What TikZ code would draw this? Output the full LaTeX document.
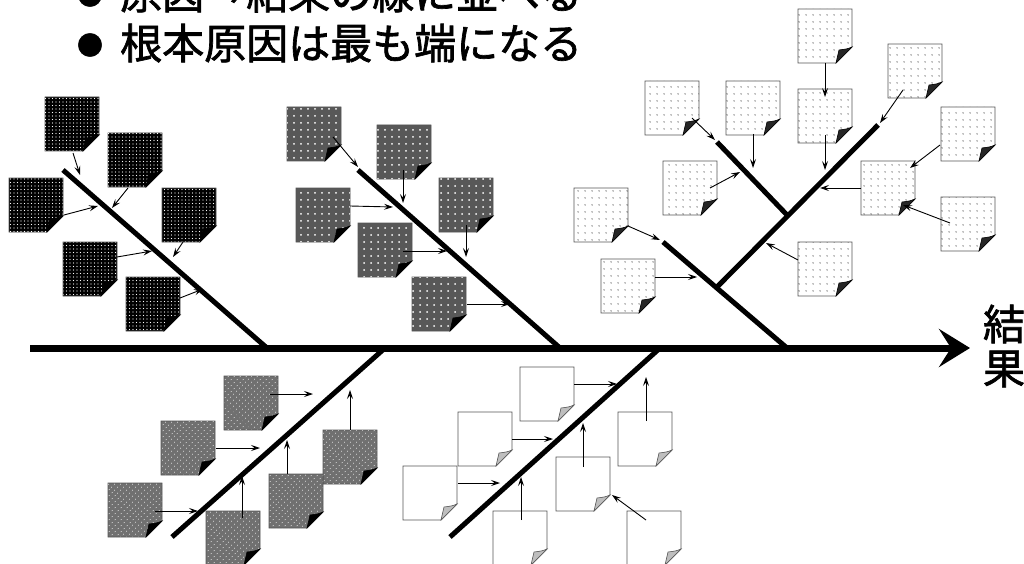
\documentclass[tikz,border=0pt]{standalone}
\usepackage{fontspec}
\newfontfamily\jp[FakeBold=1.6]{Noto Sans CJK JP}
\usetikzlibrary{arrows.meta,calc,patterns.meta}
\definecolor{edgegray}{RGB}{85,85,85}
\definecolor{notegraydark}{RGB}{88,88,88}
\definecolor{notegray}{RGB}{112,112,112}
\definecolor{foldlight}{RGB}{190,190,190}
\newcommand\stickynote[4]{%
  \node[notebox] (#1) at (#2,#3) {};
  \path[#4body] (#1.north west) -- (#1.north east) -- ($(#1.south east)+(0,-16)$)
     -- ($(#1.south east)+(-16,0)$) -- (#1.south west) -- cycle;
  \path[#4fold] ($(#1.south east)+(0,-16)$) .. controls ($(#1.south east)+(-5,-14)$) ..
     ($(#1.south east)+(-13,-13)$) -- ($(#1.south east)+(-16,0)$) -- cycle;
}
\newcommand\cause[4]{\draw[arr] ($(#1)+(#2,#3)$) -- (#4);}
\begin{document}
\begin{tikzpicture}[x=1pt,y=-1pt,
  jptext/.style={font=\jp\fontsize{42}{44}\selectfont, inner sep=0pt},
  bul/.style={font=\jp\fontsize{26}{26}\selectfont, inner sep=0pt},
  spine/.style={line width=7pt, -{Stealth[length=31pt,width=38pt,inset=12pt]}},
  branch/.style={line width=5pt},
  arr/.style={line width=0.9pt, -{Stealth[length=9pt,width=6pt,inset=3.5pt]}},
  notebox/.style={minimum width=54pt, minimum height=54pt, inner sep=0pt, outer sep=0pt},
  blackbody/.style={fill=black, draw=edgegray, line width=0.8pt,
     postaction={pattern={Dots[distance=3.5pt,radius=0.6pt]}, pattern color=white}},
  blackfold/.style={fill=black, draw=black, line width=0.6pt},
  darkbody/.style={fill=notegraydark, draw=edgegray, line width=0.8pt,
     postaction={pattern={Dots[distance=7pt,radius=1pt]}, pattern color=white}},
  darkfold/.style={fill=black, draw=black, line width=0.6pt},
  graybody/.style={fill=notegray, draw=edgegray, line width=0.8pt,
     postaction={pattern={Dots[distance=4pt,radius=0.6pt,angle=45]}, pattern color=white!80!gray}},
  grayfold/.style={fill=black, draw=black, line width=0.6pt},
  lightbody/.style={fill=white, draw=edgegray, line width=0.8pt,
     postaction={pattern={Dots[distance=6.5pt,radius=0.6pt]}, pattern color=black}},
  lightfold/.style={fill=black!85, draw=black, line width=0.6pt},
  whitebody/.style={fill=white, draw=edgegray, line width=0.8pt},
  whitefold/.style={fill=foldlight, draw=edgegray, line width=0.6pt}
]
\useasboundingbox (0,0) rectangle (1024,564);

% titles
\node[bul] (b1) at (90,-5) {●};
\node[jptext, anchor=base west] (t1) at (120,9) {原因→結果の線に並べる};
\node[bul] (b2) at (90,45) {●};
\node[jptext, anchor=base west] (t2) at (120,59) {根本原因は最も端になる};

% spine
\coordinate (s0) at (30,348);
\coordinate (s1) at (970,348);
\draw[spine] (s0) -- (s1);
\node[jptext, align=center] (res) at (1004,346) {結\\果};

% branches
\coordinate (a1) at (63,170);   \coordinate (a2) at (267,348);
\coordinate (c1) at (358,170);  \coordinate (c2) at (560,348);
\coordinate (m1) at (663,242);  \coordinate (m2) at (787,348);
\coordinate (u1) at (717,287);  \coordinate (u2) at (878,125);
\coordinate (v1) at (717,142);  \coordinate (v2) at (788,216);
\coordinate (p1) at (385,348);  \coordinate (p2) at (172,537);
\coordinate (q1) at (660,348);  \coordinate (q2) at (450,537);
\draw[branch] (a1) -- (a2);
\draw[branch] (c1) -- (c2);
\draw[branch] (m1) -- (m2);
\draw[branch] (u1) -- (u2);
\draw[branch] (v1) -- (v2);
\draw[branch] (p1) -- (p2);
\draw[branch] (q1) -- (q2);

% black notes
\stickynote{k1}{72}{124}{black}
\stickynote{k2}{135}{160}{black}
\stickynote{k3}{36}{205}{black}
\stickynote{k4}{189}{215}{black}
\stickynote{k5}{90}{269}{black}
\stickynote{k6}{153}{304}{black}
% dark notes
\stickynote{d1}{314}{134}{dark}
\stickynote{d2}{404}{152}{dark}
\stickynote{d3}{323}{215}{dark}
\stickynote{d4}{466}{205}{dark}
\stickynote{d5}{385}{250}{dark}
\stickynote{d6}{439}{304}{dark}
% light notes
\stickynote{l1}{825}{36}{light}
\stickynote{l2}{915}{71}{light}
\stickynote{l3}{672}{108}{light}
\stickynote{l4}{753}{108}{light}
\stickynote{l5}{825}{116}{light}
\stickynote{l6}{968}{134}{light}
\stickynote{l7}{690}{188}{light}
\stickynote{l8}{888}{188}{light}
\stickynote{l9}{601}{215}{light}
\stickynote{l10}{968}{224}{light}
\stickynote{l11}{628}{286}{light}
\stickynote{l12}{825}{269}{light}
% gray notes
\stickynote{g1}{251}{403}{gray}
\stickynote{g2}{188}{448}{gray}
\stickynote{g3}{350}{457}{gray}
\stickynote{g4}{296}{501}{gray}
\stickynote{g5}{135}{510}{gray}
\stickynote{g6}{233}{538}{gray}
% white notes
\stickynote{w1}{547}{394}{white}
\stickynote{w2}{485}{439}{white}
\stickynote{w3}{645}{439}{white}
\stickynote{w4}{430}{493}{white}
\stickynote{w5}{583}{484}{white}
\stickynote{w6}{520}{538}{white}
\stickynote{w7}{654}{538}{white}

% arrow targets
\coordinate (ek1) at (80,175);  \coordinate (ek2) at (112,208);
\coordinate (ek3) at (98,206);  \coordinate (ek4) at (173,257);
\coordinate (ek5) at (152,251); \coordinate (ek6) at (203,289);
\coordinate (ed1) at (358,167); \coordinate (ed2) at (403,203);
\coordinate (ed3) at (393,207); \coordinate (ed4) at (466,257);
\coordinate (ed5) at (447,251); \coordinate (ed6) at (510,304);
\coordinate (el1) at ($(l5)+(0,-19)$);
\coordinate (el2) at (825,170); \coordinate (el3) at (880,123);
\coordinate (el4) at (715,140); \coordinate (el5) at (753,168);
\coordinate (el6) at (740,172); \coordinate (el7) at ($(l8)+(22,-20)$);
\coordinate (el8) at (820,188); \coordinate (el9) at ($(l8)+(15,17)$);
\coordinate (el10) at (766,243); \coordinate (el11) at (660,240);
\coordinate (el12) at (697,277);
\coordinate (eg1) at (313,394); \coordinate (eg2) at (260,448);
\coordinate (eg3) at (350,390); \coordinate (eg4) at (287,440);
\coordinate (eg5) at (198,511); \coordinate (eg6) at (242,476);
\coordinate (ew1) at (617,384); \coordinate (ew2) at (553,439);
\coordinate (ew3) at (646,377); \coordinate (ew4) at (500,483);
\coordinate (ew5) at (583,423); \coordinate (ew6) at (521,477);
\coordinate (ew7) at ($(w5)+(29,11)$);

% arrows
\cause{k1}{1}{29}{ek1}
\cause{k2}{-7}{28}{ek2}
\cause{k3}{28}{10}{ek3}
\cause{k4}{-6}{27}{ek4}
\cause{k5}{27}{-12}{ek5}
\cause{k6}{27}{-6}{ek6}
\cause{d1}{19}{3}{ed1}
\cause{d2}{-1}{18}{ed2}
\cause{d3}{27}{-9}{ed3}
\cause{d4}{0}{20}{ed4}
\cause{d5}{18}{1}{ed5}
\cause{d6}{28}{0}{ed6}
\cause{l1}{0}{27}{el1}
\cause{l5}{0}{19}{el2}
\cause{l2}{-12}{19}{el3}
\cause{l3}{20}{10}{el4}
\cause{l4}{0}{26}{el5}
\cause{l7}{20}{0}{el6}
\cause{l6}{-28}{11}{el7}
\cause{l8}{-27}{0}{el8}
\cause{l10}{-18}{-1}{el9}
\cause{l12}{-27}{-9}{el10}
\cause{l9}{27}{11}{el11}
\cause{l11}{27}{-9}{el12}
\cause{g1}{19}{-9}{eg1}
\cause{g2}{28}{0}{eg2}
\cause{g3}{0}{-27}{eg3}
\cause{g4}{-9}{-27}{eg4}
\cause{g5}{20}{1}{eg5}
\cause{g6}{9}{-20}{eg6}
\cause{w1}{27}{-10}{ew1}
\cause{w2}{27}{0}{ew2}
\cause{w3}{1}{-18}{ew3}
\cause{w4}{28}{-10}{ew4}
\cause{w5}{0}{-17}{ew5}
\cause{w6}{1}{-18}{ew6}
\cause{w7}{-8}{-18}{ew7}
\end{tikzpicture}
\end{document}
